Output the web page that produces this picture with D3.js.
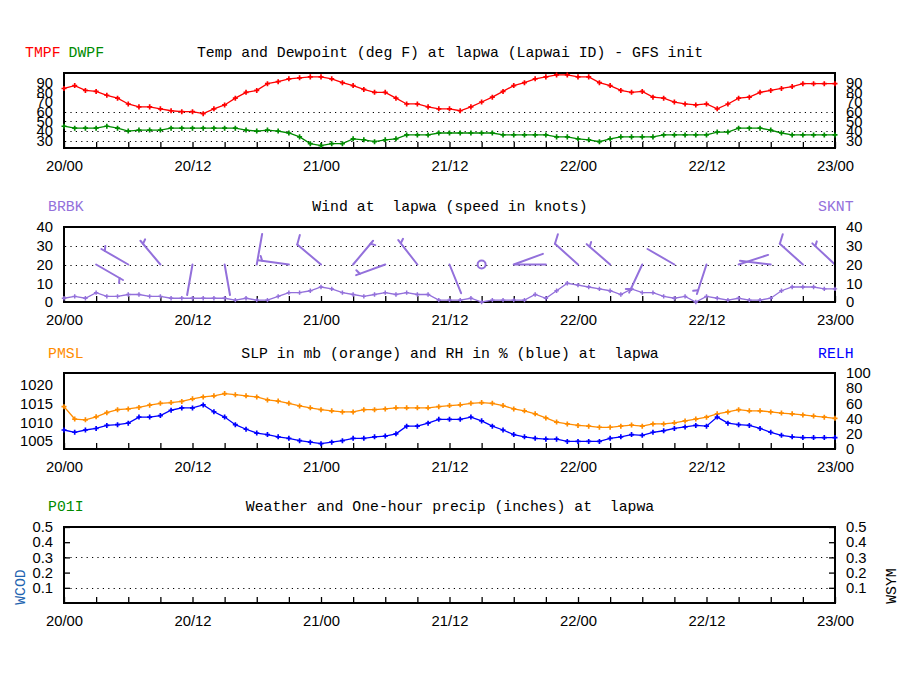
<!DOCTYPE html>
<html>
<head>
<meta charset="utf-8">
<script src="https://cdn.jsdelivr.net/npm/d3@7"></script>
<style>
body { margin: 0; background: #fff; }
</style>
</head>
<body>
<script>
// hourly forecast, 20/00 .. 23/00
var hours = d3.range(0, 73)
var xTickHours = d3.range(0, 73, 3)
var xLabelHours = [0, 12, 24, 36, 48, 60, 72]
var xLabels = ["20/00", "20/12", "21/00", "21/12", "22/00", "22/12", "23/00"]

var tmpf = [84,87,82,81,77,74,68,65,65,63,61,60,60,
  58,63,67,74,80,82,89,91,94,95,96,96,
  94,90,87,83,80,80,74,68,68,65,63,63,
  61,65,70,75,81,87,90,94,96,98,98,96,
  96,90,87,82,80,81,75,74,70,68,67,68,
  63,68,74,75,80,82,84,86,89,89,89,89]
var dwpf = [45,43,43,43,45,43,40,41,41,41,43,43,43,
  43,43,43,43,41,40,41,40,38,34,27,25,
  27,27,32,31,29,31,32,36,36,36,38,38,
  38,38,38,38,36,36,36,36,36,34,34,32,
  31,29,32,34,34,34,34,36,36,36,36,36,
  39,39,43,43,43,41,38,36,36,36,36,36]
var sknt = [2,3,2,5,3,3,4,4,3,3,2,2,2,
  2,2,2,1,2,1,1,3,5,5,6,8,
  7,5,4,3,4,5,4,5,4,4,1,1,
  1,2,0,1,1,1,1,4,2,6,10,9,
  8,7,6,4,7,5,5,3,2,3,0,3,
  2,1,2,1,1,2,6,8,8,8,7,7]
// barbs every 3 hours, direction wind blows from (deg)
var barbHours = d3.range(0, 73, 3)
var barbDir = [270,120,300,320,190,170,10,278,310,40,250,322,158,0,70,270,312,311,205,300,198,72,277,312,313]
var pmsl = [1014.2,1010.9,1010.7,1011.5,1012.6,1013.4,1013.6,1014.0,1014.6,1015.1,1015.3,1015.6,1016.3,
  1016.8,1017.1,1017.7,1017.4,1017.1,1016.8,1016.0,1015.7,1015.1,1014.4,1013.9,1013.4,
  1013.1,1012.8,1012.8,1013.4,1013.4,1013.6,1013.9,1013.9,1013.9,1013.9,1014.2,1014.5,
  1014.7,1015.1,1015.3,1015.1,1014.5,1013.6,1013.1,1012.3,1011.2,1010.1,1009.6,1009.2,
  1009.0,1008.7,1008.7,1009.0,1009.3,1009.0,1009.6,1009.6,1009.9,1010.4,1010.9,1011.4,
  1012.3,1012.8,1013.4,1013.1,1013.1,1012.8,1012.5,1012.3,1012.0,1011.7,1011.4,1011.1]
var relh = [25,22,25,27,31,32,34,42,42,44,51,54,54,
  58,49,42,32,26,21,19,16,14,11,9,7,
  9,11,14,14,16,17,20,30,30,34,39,39,
  39,42,37,30,25,19,16,14,13,13,10,10,
  10,10,14,16,19,18,22,24,27,29,31,30,
  42,34,32,31,27,22,18,16,15,15,15,15]

var tempTicks = [30,40,50,60,70,80,90]
var tempGrid = [30,40,50,60]
var windTicks = [0,10,20,30,40]
var windGrid = [10,20,30]
var slpTicks = [1005,1010,1015,1020]
var rhTicks = [0,20,40,60,80,100]
var precipTicks = [0.1,0.2,0.3,0.4,0.5]
var precipGrid = [0.1,0.3]

var red = "#ff0000", green = "#008b00", purple = "#9370db", orange = "#ff8c00", blue = "#0000ff"
var fs = "14.8px"

var svg = d3.select("body").append("svg")
  .attr("width", 900)
  .attr("height", 700)
  .style("font-family", "'Liberation Mono', 'DejaVu Sans Mono', monospace")
  .style("font-size", fs)
svg.append("rect").attr("width", 900).attr("height", 700).style("fill", "#fff")

var x = d3.scaleLinear().domain([0, 72]).range([64, 835])
var L = 64, R = 835

// frame, bottom axis with inward ticks, and the date labels
function panel(top, bottom) {
  var g = svg.append("g")
  var ax = d3.axisBottom(x)
    .tickValues(xTickHours)
    .tickSizeInner(-6)
    .tickSizeOuter(0)
    .tickPadding(12)
    .tickFormat(function(h) {
      var i = xLabelHours.indexOf(h)
      return i >= 0 ? xLabels[i] : ""
    })
  var a = g.append("g").attr("transform", "translate(0," + bottom + ")").call(ax)
  a.select(".domain").remove()
  a.selectAll("line").style("stroke", "#000").style("stroke-width", 1.3)
  a.selectAll("text").style("font-size", fs).style("font-family", "inherit").style("fill", "#000")
  g.append("rect")
    .attr("x", L).attr("y", top).attr("width", R - L).attr("height", bottom - top)
    .style("fill", "none").style("stroke", "#000").style("stroke-width", 2)
  return g
}

function grid(y, vals) {
  svg.append("g").selectAll("line").data(vals).enter().append("line")
    .attr("x1", L + 1).attr("x2", R - 1)
    .attr("y1", function(d) { return Math.round(y(d)) + 0.5 })
    .attr("y2", function(d) { return Math.round(y(d)) + 0.5 })
    .style("stroke", "#000").style("stroke-width", 1.2)
    .style("stroke-dasharray", "1.2,4.2")
}

function yAxis(side, y, vals, fmt, inner) {
  var ax = (side == "left" ? d3.axisLeft(y) : d3.axisRight(y))
    .tickValues(vals).tickSizeOuter(0).tickSizeInner(inner ? -6 : 0)
    .tickPadding(11).tickFormat(fmt || d3.format("d"))
  var a = svg.append("g")
    .attr("transform", "translate(" + (side == "left" ? L : R) + ",0)")
    .call(ax)
  a.select(".domain").remove()
  a.selectAll("line").style("stroke", "#000").style("stroke-width", 1.3)
  a.selectAll("text").style("font-size", fs).style("font-family", "inherit").style("fill", "#000")
}

function series(y, vals, color, size) {
  var g = svg.append("g")
  g.append("path").datum(vals)
    .attr("d", d3.line().x(function(d, i) { return x(hours[i]) }).y(function(d) { return y(d) }))
    .style("fill", "none").style("stroke", color).style("stroke-width", 1.3)
  g.selectAll("path.m").data(vals).enter().append("path").attr("class", "m")
    .attr("transform", function(d, i) { return "translate(" + x(hours[i]) + "," + y(d) + ")" })
    .attr("d", d3.symbol().type(d3.symbolCross).size(size || 14))
    .style("fill", color)
}

function label(txt, xx, yy, color, anchor) {
  svg.append("text").attr("x", xx).attr("y", yy).text(txt)
    .style("fill", color || "#000").style("text-anchor", anchor || "start")
    .attr("xml:space", "preserve").style("white-space", "pre")
}

// ---- panel 1: temperature / dewpoint
var y1 = d3.scaleLinear().domain([22.5, 100]).range([148, 73])
panel(73, 148)
grid(y1, tempGrid)
yAxis("left", y1, tempTicks)
yAxis("right", y1, tempTicks)
series(y1, tmpf, red)
series(y1, dwpf, green)
label("TMPF", 25, 57, red)
label("DWPF", 68.5, 57, green)
label("Temp and Dewpoint (deg F) at lapwa (Lapwai ID) - GFS init", 450, 57, "#000", "middle")

// ---- panel 2: wind
var y2 = d3.scaleLinear().domain([0, 40]).range([302, 227])
panel(227, 302)
grid(y2, windGrid)
yAxis("left", y2, windTicks)
yAxis("right", y2, windTicks)
svg.append("clipPath").attr("id", "wclip").append("rect")
  .attr("x", L + 1).attr("y", 228).attr("width", R - L - 2).attr("height", 73)
var barbs = svg.append("g").attr("clip-path", "url(#wclip)")
  .style("stroke", purple).style("stroke-width", 2).style("fill", "none").style("stroke-linecap", "round")
barbHours.forEach(function(h, i) {
  var cx = x(h), cy = y2(20)
  var spd = sknt[h]
  if (spd < 0.5) {
    barbs.append("circle").attr("cx", cx).attr("cy", cy).attr("r", 4)
    return
  }
  var a = barbDir[i] * Math.PI / 180
  var ux = Math.sin(a), uy = -Math.cos(a)
  var len = 31
  barbs.append("line").attr("x1", cx).attr("y1", cy)
    .attr("x2", cx + len * ux).attr("y2", cy + len * uy)
  var s5 = Math.round(spd / 5) * 5
  var full = Math.floor(s5 / 10), half = (s5 % 10) >= 5
  var b = (barbDir[i] + 65) * Math.PI / 180
  var bx = Math.sin(b), by = -Math.cos(b)
  var pos = len
  for (var k = 0; k < full; k++) {
    var px = cx + pos * ux, py = cy + pos * uy
    barbs.append("line").attr("x1", px).attr("y1", py).attr("x2", px + 10 * bx).attr("y2", py + 10 * by)
    pos -= 4
  }
  if (half) {
    if (full == 0) pos = len - 4
    var hx = cx + pos * ux, hy = cy + pos * uy
    barbs.append("line").attr("x1", hx).attr("y1", hy).attr("x2", hx + 5 * bx).attr("y2", hy + 5 * by)
  }
})
series(y2, sknt, purple, 11)
label("BRBK", 48, 211, purple)
label("SKNT", 818, 211, purple)
label("Wind at  lapwa (speed in knots)", 450, 211, "#000", "middle")

// ---- panel 3: SLP and RH
var y3 = d3.scaleLinear().domain([1002.9, 1023.2]).range([449, 373])
var y3r = d3.scaleLinear().domain([0, 100]).range([449, 373])
panel(373, 449)
yAxis("left", y3, slpTicks)
yAxis("right", y3r, rhTicks)
series(y3, pmsl, orange)
series(y3r, relh, blue)
label("PMSL", 48, 358, orange)
label("RELH", 818, 358, blue)
label("SLP in mb (orange) and RH in % (blue) at  lapwa", 450, 358, "#000", "middle")

// ---- panel 4: weather / precip (no precip in this run)
var y4 = d3.scaleLinear().domain([0, 0.5]).range([603, 527])
panel(527, 603)
grid(y4, precipGrid)
yAxis("left", y4, precipTicks, d3.format(".1f"), true)
yAxis("right", y4, precipTicks, d3.format(".1f"), true)
label("P01I", 48, 511, green)
label("Weather and One-hour precip (inches) at  lapwa", 450, 511, "#000", "middle")
svg.append("text").attr("transform", "translate(25,587) rotate(-90)").text("WCOD")
  .style("text-anchor", "middle").style("fill", "#1f64b0")
svg.append("text").attr("transform", "translate(896,586) rotate(-90)").text("WSYM")
  .style("text-anchor", "middle").style("fill", "#000")
</script>
</body>
</html>
